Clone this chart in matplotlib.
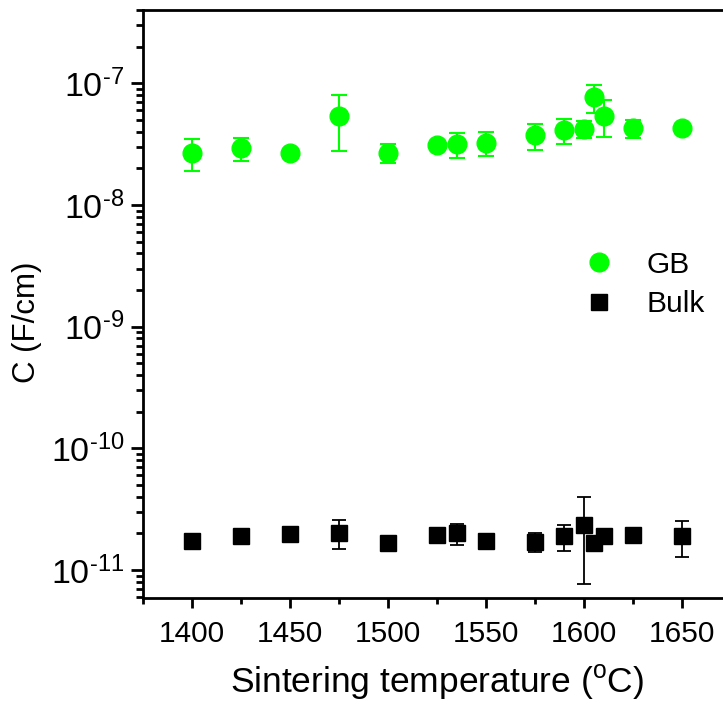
import matplotlib
matplotlib.use("Agg")
import matplotlib.pyplot as plt
import numpy as np
from matplotlib.ticker import FixedLocator, NullFormatter, FuncFormatter
from matplotlib.lines import Line2D

plt.rcParams['font.family'] = ['Liberation Sans', 'DejaVu Sans']
plt.rcParams['mathtext.fontset'] = 'custom'
plt.rcParams['mathtext.rm'] = 'Liberation Sans'
plt.rcParams['mathtext.it'] = 'Liberation Sans:italic'
plt.rcParams['mathtext.bf'] = 'Liberation Sans:bold'

# Sintering temperatures (°C)
temp = [1400, 1425, 1450, 1475, 1500, 1525, 1535, 1550, 1575, 1590, 1600, 1605, 1610, 1625, 1650]

# Grain-boundary capacitance (F/cm) and its error
gb_c = [2.69e-8, 2.92e-8, 2.66e-8, 5.38e-8, 2.69e-8, 3.11e-8, 3.16e-8, 3.25e-8,
        3.74e-8, 4.13e-8, 4.23e-8, 7.67e-8, 5.42e-8, 4.27e-8, 4.27e-8]
gb_err = [0.80e-8, 0.62e-8, 0.0, 2.6e-8, 0.49e-8, 0.0, 0.72e-8, 0.73e-8,
          0.91e-8, 0.95e-8, 0.70e-8, 2.0e-8, 1.8e-8, 0.75e-8, 0.0]

# Bulk capacitance (F/cm) and its error
bulk_c = [1.72e-11, 1.89e-11, 1.98e-11, 2.03e-11, 1.67e-11, 1.95e-11, 2.00e-11, 1.72e-11,
          1.70e-11, 1.89e-11, 2.37e-11, 1.67e-11, 1.91e-11, 1.96e-11, 1.90e-11]
bulk_err = [0.0, 0.0, 0.0, 0.55e-11, 0.0, 0.0, 0.40e-11, 0.0,
            0.30e-11, 0.45e-11, 1.60e-11, 0.0, 0.0, 0.0, 0.63e-11]

# Axis ticks
x_major = [1400, 1450, 1500, 1550, 1600, 1650]
x_minor = [1375, 1425, 1475, 1525, 1575, 1625]
y_exponents = [-11, -10, -9, -8, -7]

W, H = 723, 706
fig = plt.figure(figsize=(W / 100, H / 100), dpi=100)
ax = fig.add_axes([143 / W, (H - 598) / H, (731 - 143) / W, (598 - 10) / H])

green = '#00FF00'
ax.errorbar(temp, bulk_c, yerr=bulk_err, fmt='s', color='black', ms=11.5,
            elinewidth=1.3, capsize=5, capthick=1.3, zorder=3)
ax.errorbar(temp, gb_c, yerr=gb_err, fmt='o', color=green, ms=13.5,
            elinewidth=1.5, capsize=5.5, capthick=1.5, zorder=4)

ax.set_yscale('log')
ax.set_xlim(1375, 1675)
ax.set_ylim(5.9e-12, 4e-7)

ax.xaxis.set_major_locator(FixedLocator(x_major))
ax.xaxis.set_minor_locator(FixedLocator(x_minor))
ax.xaxis.set_minor_formatter(NullFormatter())

y_major = [10.0 ** e for e in y_exponents]
y_minor = [m * 10.0 ** e for e in [-12] + y_exponents for m in range(2, 10)]
y_minor = [v for v in y_minor if 5.9e-12 <= v <= 4e-7]
ax.yaxis.set_major_locator(FixedLocator(y_major))
ax.yaxis.set_minor_locator(FixedLocator(y_minor))
ax.yaxis.set_minor_formatter(NullFormatter())
ax.yaxis.set_major_formatter(FuncFormatter(
    lambda v, pos: '$10^{\u2010%d}$' % round(-np.log10(v))))

ax.tick_params(which='both', direction='out', width=2, top=False, right=False)
ax.tick_params(axis='x', which='major', labelsize=21.5, pad=8, length=7.5)
ax.tick_params(axis='x', which='minor', length=4.5)
ax.tick_params(axis='y', which='major', labelsize=24.5, pad=5, length=8.6)
ax.tick_params(axis='y', which='minor', length=5)
for s in ax.spines.values():
    s.set_linewidth(2)

fig.text(437.5 / W, 1 - 692 / H, r'Sintering temperature ($^{\mathrm{o}}$C)',
         fontsize=25.5, ha='center', va='baseline')
fig.text(27.5 / W, 1 - 322 / H, 'C (F/cm)', fontsize=22.5, rotation=90,
         ha='center', va='center')

handles = [Line2D([], [], ls='none', marker='o', ms=13.5, color=green),
           Line2D([], [], ls='none', marker='s', ms=11.5, color='black')]
ax.legend(handles, ['GB', 'Bulk'], loc='center left',
          bbox_to_anchor=((584 - 143) / 588, (598 - 284.5) / 588),
          frameon=False, fontsize=21.5, borderpad=0, borderaxespad=0,
          handletextpad=1.1, labelspacing=0.4, handlelength=1.0)

fig.savefig('out.png', dpi=100)
